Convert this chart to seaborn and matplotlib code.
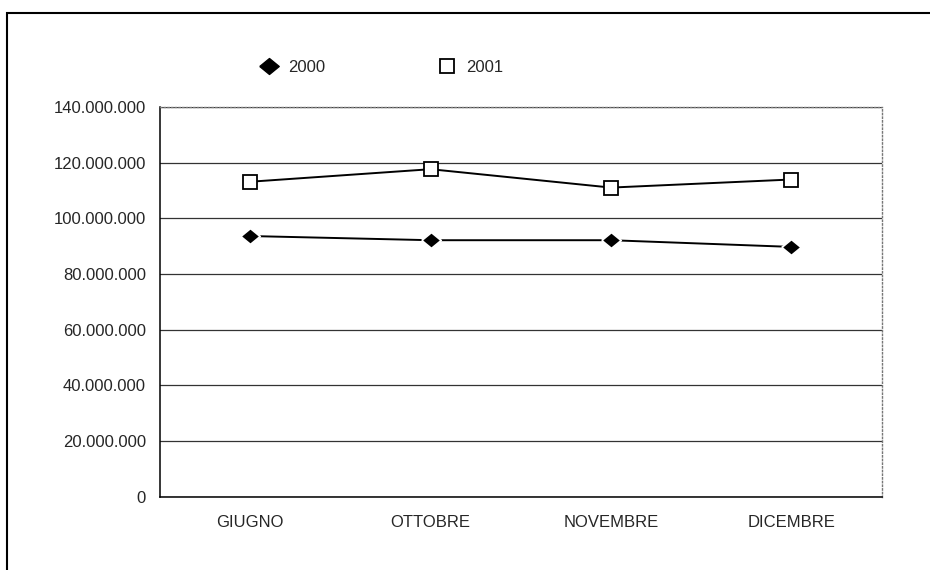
import matplotlib
matplotlib.use("Agg")
import matplotlib.pyplot as plt
import seaborn as sns
import pandas as pd
from matplotlib.ticker import FuncFormatter
from matplotlib.patches import Rectangle
from matplotlib.lines import Line2D

mesi = ["GIUGNO", "OTTOBRE", "NOVEMBRE", "DICEMBRE"]
anni = ["2000", "2001"]
valori_2000 = [93.6e6, 92.1e6, 92.1e6, 89.7e6]
valori_2001 = [113.1e6, 117.6e6, 111.0e6, 113.9e6]
y_ticks = [0, 20e6, 40e6, 60e6, 80e6, 100e6, 120e6, 140e6]

df = pd.DataFrame({
    "mese": mesi * 2,
    "valore": valori_2000 + valori_2001,
    "anno": [anni[0]] * len(mesi) + [anni[1]] * len(mesi),
})

sns.set_style("white")
plt.rcParams["font.family"] = ["Liberation Sans", "DejaVu Sans"]
plt.rcParams["font.size"] = 12

fig = plt.figure(figsize=(9.3, 5.7), dpi=100)
ax = fig.add_axes([0.172, 0.1286, 0.776, 0.684])

# diamond a bit wider than tall, like the scanned one
rombo = [(-1, 0), (0, 0.82), (1, 0), (0, -0.82), (-1, 0)]

sns.lineplot(
    data=df, x="mese", y="valore", hue="anno", style="anno",
    markers={"2000": rombo, "2001": "s"}, dashes=False,
    palette={"2000": "black", "2001": "black"},
    linewidth=1.4, markersize=9.5, markeredgewidth=1.3,
    legend=False, ax=ax,
)
for line in ax.lines:
    if line.get_marker() == "s":
        line.set_markerfacecolor("white")
        line.set_markeredgecolor("black")
    else:
        line.set_markersize(14)

ax.set_xlim(-0.5, len(mesi) - 0.5)
ax.set_ylim(0, 140e6)
ax.set_xticks(range(len(mesi)))
ax.set_xticklabels(mesi)
ax.set_xticks([i - 0.5 for i in range(len(mesi) + 1)], minor=True)
ax.tick_params(axis="x", which="major", length=0, pad=13, labelsize=12)
ax.tick_params(axis="x", which="minor", length=5, width=0.8, direction="out", color="black")
ax.set_yticks(y_ticks)
ax.yaxis.set_major_formatter(FuncFormatter(lambda v, p: f"{int(round(v)):,}".replace(",", ".")))
ax.tick_params(axis="y", length=5, width=0.8, direction="out", color="black", pad=5, labelsize=12)
ax.set_xlabel("")
ax.set_ylabel("")

ax.yaxis.grid(True, color="#333333", linewidth=0.9)
ax.set_axisbelow(True)

for s in ["left", "bottom"]:
    ax.spines[s].set_color("black")
    ax.spines[s].set_linewidth(1.1)
for s in ["top", "right"]:
    ax.spines[s].set_color("#777777")
    ax.spines[s].set_linewidth(1.0)
    ax.spines[s].set_linestyle(":")

handles = [
    Line2D([], [], linestyle="none", marker=rombo, markersize=14,
           markerfacecolor="black", markeredgecolor="black"),
    Line2D([], [], linestyle="none", marker="s", markersize=9.5,
           markerfacecolor="white", markeredgecolor="black", markeredgewidth=1.3),
]
fig.legend(handles, anni, loc="center", bbox_to_anchor=(0.411, 0.881), ncol=2,
           frameon=False, handlelength=1.0, handletextpad=0.65, columnspacing=6.8,
           fontsize=12)

# outer frame of the scanned page
fig.add_artist(Rectangle((7 / 930, -0.5), 2, 0.5 + 1 - 13 / 570, transform=fig.transFigure,
                         fill=False, edgecolor="black", linewidth=1.5))

fig.savefig("out.png", dpi=100)
